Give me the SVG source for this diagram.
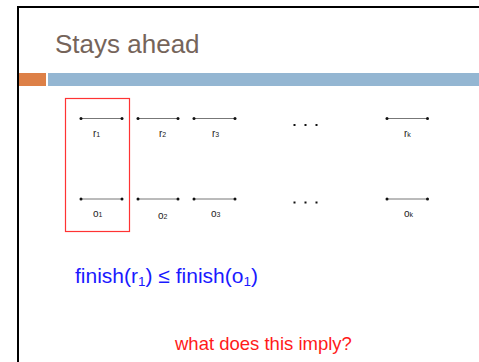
<svg xmlns="http://www.w3.org/2000/svg" width="479" height="362" viewBox="0 0 479 362">
<defs>
<style>
.seg{stroke:#777;stroke-width:1;fill:none}
.dot{fill:#111}
.lbl{font-family:"Liberation Sans",Arial,sans-serif;font-size:10px;fill:#222}
.sub{font-size:7px}
.ell{fill:#111}
</style>
</defs>
<rect x="0" y="0" width="479" height="362" fill="#fff"/>
<g id="frame">
<path d="M18 362 V7 H479" fill="none" stroke="#000" stroke-width="2"/>
</g>
<g id="title">
<text x="55" y="53" font-family="Liberation Sans, Arial, sans-serif" font-size="26" fill="#75645A">Stays ahead</text>
</g>
<g id="bars">
<rect x="19" y="73" width="27" height="13" fill="#DD8047"/>
<rect x="48" y="73" width="431" height="13" fill="#94B6D2"/>
</g>
<g id="highlight">
<rect x="65.5" y="98.5" width="64" height="133" fill="none" stroke="#f33" stroke-width="1.2"/>
</g>
<g id="r1">
<line class="seg" x1="81" y1="118.5" x2="122" y2="118.5"/>
<circle class="dot" cx="81" cy="118.5" r="1.5"/><circle class="dot" cx="122" cy="118.5" r="1.5"/>
<text class="lbl" x="93" y="136.5">r<tspan class="sub">1</tspan></text>
</g>
<g id="r2">
<line class="seg" x1="138" y1="118.5" x2="178" y2="118.5"/>
<circle class="dot" cx="138" cy="118.5" r="1.5"/><circle class="dot" cx="178" cy="118.5" r="1.5"/>
<text class="lbl" x="159" y="137">r<tspan class="sub">2</tspan></text>
</g>
<g id="r3">
<line class="seg" x1="194" y1="118.5" x2="235" y2="118.5"/>
<circle class="dot" cx="194" cy="118.5" r="1.5"/><circle class="dot" cx="235" cy="118.5" r="1.5"/>
<text class="lbl" x="212" y="137">r<tspan class="sub">3</tspan></text>
</g>
<g id="rk">
<line class="seg" x1="387" y1="118.5" x2="427.5" y2="118.5"/>
<circle class="dot" cx="387" cy="118.5" r="1.5"/><circle class="dot" cx="427.5" cy="118.5" r="1.5"/>
<text class="lbl" x="404" y="137">r<tspan class="sub">k</tspan></text>
</g>
<g id="o1">
<line class="seg" x1="81" y1="199" x2="122" y2="199"/>
<circle class="dot" cx="81" cy="199" r="1.5"/><circle class="dot" cx="122" cy="199" r="1.5"/>
<text class="lbl" x="93" y="217">o<tspan class="sub">1</tspan></text>
</g>
<g id="o2">
<line class="seg" x1="138" y1="199" x2="178" y2="199"/>
<circle class="dot" cx="138" cy="199" r="1.5"/><circle class="dot" cx="178" cy="199" r="1.5"/>
<text class="lbl" x="158" y="218.5">o<tspan class="sub">2</tspan></text>
</g>
<g id="o3">
<line class="seg" x1="194" y1="199" x2="235" y2="199"/>
<circle class="dot" cx="194" cy="199" r="1.5"/><circle class="dot" cx="235" cy="199" r="1.5"/>
<text class="lbl" x="211" y="217">o<tspan class="sub">3</tspan></text>
</g>
<g id="ok">
<line class="seg" x1="387" y1="199" x2="427.5" y2="199"/>
<circle class="dot" cx="387" cy="199" r="1.5"/><circle class="dot" cx="427.5" cy="199" r="1.5"/>
<text class="lbl" x="404" y="217">o<tspan class="sub">k</tspan></text>
</g>
<g id="ellipsis-r">
<rect class="ell" x="293.5" y="124" width="2" height="2"/>
<rect class="ell" x="304.5" y="124" width="2" height="2"/>
<rect class="ell" x="315.5" y="124" width="2" height="2"/>
</g>
<g id="ellipsis-o">
<rect class="ell" x="293.5" y="201.5" width="2" height="2"/>
<rect class="ell" x="304.5" y="201.5" width="2" height="2"/>
<rect class="ell" x="315.5" y="201.5" width="2" height="2"/>
</g>
<g id="inequality">
<text x="75" y="283" font-family="Liberation Sans, Arial, sans-serif" font-size="21" fill="#1a1aff">finish(r<tspan font-size="13.5" dy="3">1</tspan><tspan dy="-3">) ≤ finish(o</tspan><tspan font-size="13.5" dy="3">1</tspan><tspan dy="-3">)</tspan></text>
</g>
<g id="question">
<text x="175" y="350" font-family="Liberation Sans, Arial, sans-serif" font-size="18.5" fill="#ff1a1a">what does this imply?</text>
</g>
</svg>
